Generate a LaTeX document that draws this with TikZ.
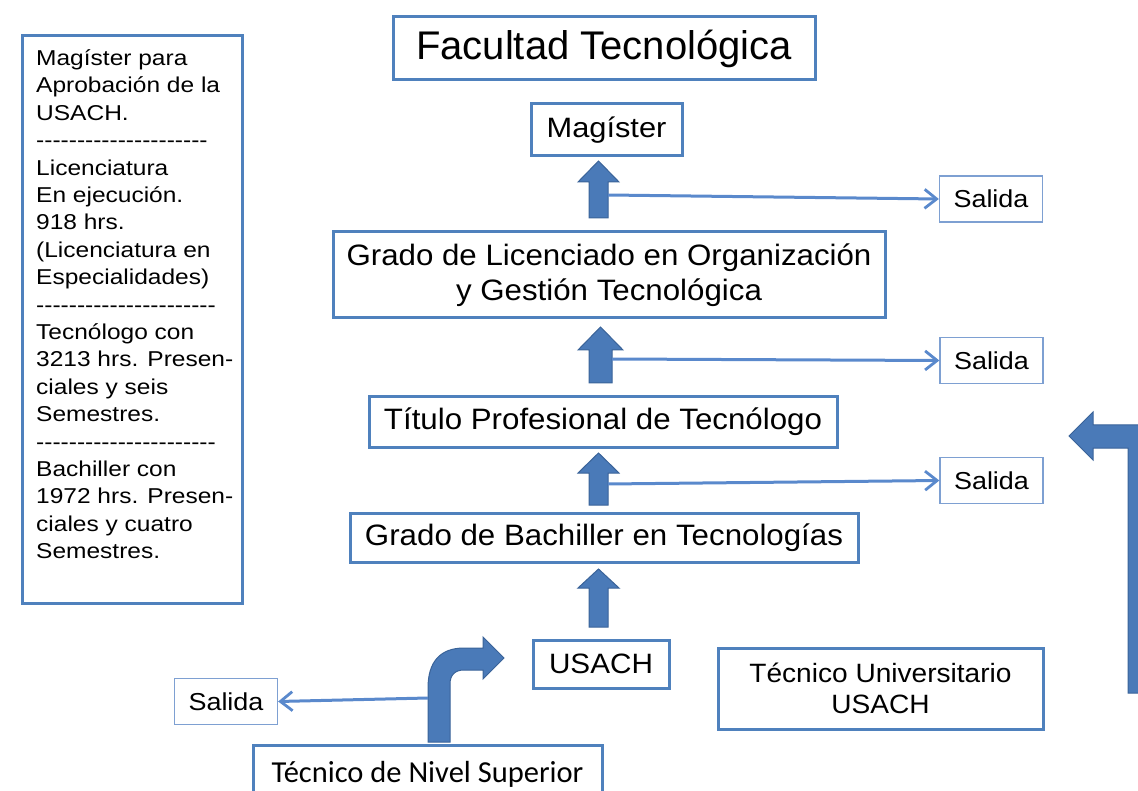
\documentclass[tikz,border=0pt]{standalone}
\usepackage{fontspec}
\setmainfont{Liberation Sans}[Ligatures=TeXOff]
\newfontfamily\calfont{Carlito}
\newfontfamily\infofont{Liberation Sans}[FakeStretch=1.14, Ligatures=TeXOff]
\newfontfamily\boxfont{Liberation Sans}[FakeStretch=1.06, Ligatures=TeXOff]
\newfontfamily\magfont{Liberation Sans}[FakeStretch=1.1, Ligatures=TeXOff]
\newfontfamily\salfont{Liberation Sans}[FakeStretch=1.1, Ligatures=TeXOff]
\usetikzlibrary{arrows.meta}
\definecolor{boxblue}{HTML}{4F81BD}
\definecolor{lightblue}{HTML}{7EA0D2}
\definecolor{arrfill}{HTML}{4A7AB8}
\definecolor{arredge}{HTML}{3A6399}
\definecolor{linkblue}{HTML}{5A89CC}
\tikzset{
  box/.style={draw=boxblue, line width=3pt, fill=white, inner sep=0pt, align=center, text=black},
  salbox/.style={draw=lightblue, line width=1.3pt, fill=white, inner sep=0pt, minimum width=103pt, minimum height=46pt, font=\salfont\fontsize{24.5}{28}\selectfont},
  blockarr/.style={fill=arrfill, draw=arredge, line width=1pt, line join=miter},
  exitarr/.style={draw=linkblue, line width=3pt, -{Straight Barb[length=12pt,width=19pt,line width=2.8pt]}},
}
\begin{document}
\begin{tikzpicture}[x=1pt,y=-1pt]
\useasboundingbox (0,0) rectangle (1138,791);
\clip (0,0) rectangle (1138,791);
% left info box
\node[box, minimum width=220pt, minimum height=567pt] (info) at (132,319.5) {};
\node[anchor=north west, inner sep=0pt, align=left, font=\infofont\fontsize{21.5}{27.4}\selectfont] (infotext) at (36,49.5)
{Magíster para\\Aprobación de la\\USACH.\\---------------------\\Licenciatura\\En ejecución.\\918 hrs.\\(Licenciatura en\\Especialidades)\\----------------------\\Tecnólogo con\\3213 hrs. Presen-\\ciales y seis\\Semestres.\\----------------------\\Bachiller con\\1972 hrs. Presen-\\ciales y cuatro\\Semestres.};
% main boxes
\node[box, minimum width=422pt, minimum height=63pt, font=\fontsize{40}{44}\selectfont] (title) at (604,48.5) {Facultad Tecnológica};
\node[box, minimum width=151pt, minimum height=52pt, font=\magfont\fontsize{28}{32}\selectfont] (mag) at (606.5,130) {Magíster};
\node[box, minimum width=552pt, minimum height=86pt, font=\boxfont\fontsize{29.5}{35}\selectfont] (lic) at (609,275) {Grado de Licenciado en Organización\\y Gestión Tecnológica};
\node[box, minimum width=468pt, minimum height=50pt, font=\boxfont\fontsize{29.5}{34}\selectfont] (tit) at (603,422) {Título Profesional de Tecnólogo};
\node[box, minimum width=508pt, minimum height=49pt, font=\boxfont\fontsize{29.5}{34}\selectfont] (bach) at (604,537.5) {Grado de Bachiller en Tecnologías};
\node[box, minimum width=136pt, minimum height=48pt, font=\boxfont\fontsize{28}{32}\selectfont] (usach) at (601,664) {USACH};
\node[box, minimum width=349pt, minimum height=58pt, font=\calfont\fontsize{30.5}{34}\selectfont] (tns) at (427.5,774) {Técnico de Nivel Superior};
\node[box, minimum width=325pt, minimum height=81pt, font=\boxfont\fontsize{26.5}{30.5}\selectfont] (tu) at (880.5,688.5) {Técnico Universitario\\USACH};
% salida boxes
\node[salbox] (s1) at (991,199) {Salida};
\node[salbox] (s2) at (991.5,360.5) {Salida};
\node[salbox] (s3) at (991.5,480.5) {Salida};
\node[salbox] (s0) at (226,701.5) {Salida};
% block up arrows
\draw[blockarr] (589,218) -- (589,182) -- (578,182) -- (598.5,161) -- (619,182) -- (608,182) -- (608,218) -- cycle;
\draw[blockarr] (589,383) -- (589,350) -- (578,350) -- (600.5,327) -- (623,350) -- (612,350) -- (612,383) -- cycle;
\draw[blockarr] (589,505) -- (589,473) -- (578,473) -- (598.5,453) -- (619,473) -- (608,473) -- (608,505) -- cycle;
\draw[blockarr] (589,627) -- (589,588) -- (578,588) -- (598.5,569) -- (619,588) -- (608,588) -- (608,627) -- cycle;
% bent arrow from Tecnico de Nivel Superior to USACH
\draw[blockarr] (428,742) -- (428,688) .. controls (428,662) and (440,648) .. (464,648) -- (483,648) -- (483,637) -- (504,658) -- (483,679) -- (483,670) -- (464,670) .. controls (455,670) and (450,675) .. (450,684) -- (450,742) -- cycle;
% big bent arrow on the right
\draw[blockarr] (1128,693) -- (1128,448) -- (1093,448) -- (1093,460) -- (1069,436) -- (1093,412) -- (1093,425) -- (1140,425) .. controls (1148,425) and (1152,430) .. (1152,438) -- (1152,693) -- cycle;
% exit connectors
\coordinate (e1) at (608,195);
\coordinate (e2) at (612,359);
\coordinate (e3) at (608,484);
\coordinate (e0) at (428,698);
\draw[exitarr] (e1) -- (s1.west);
\draw[exitarr] (e2) -- (s2.west);
\draw[exitarr] (e3) -- (s3.west);
\draw[exitarr] (e0) -- (s0.east);
\end{tikzpicture}
\end{document}
